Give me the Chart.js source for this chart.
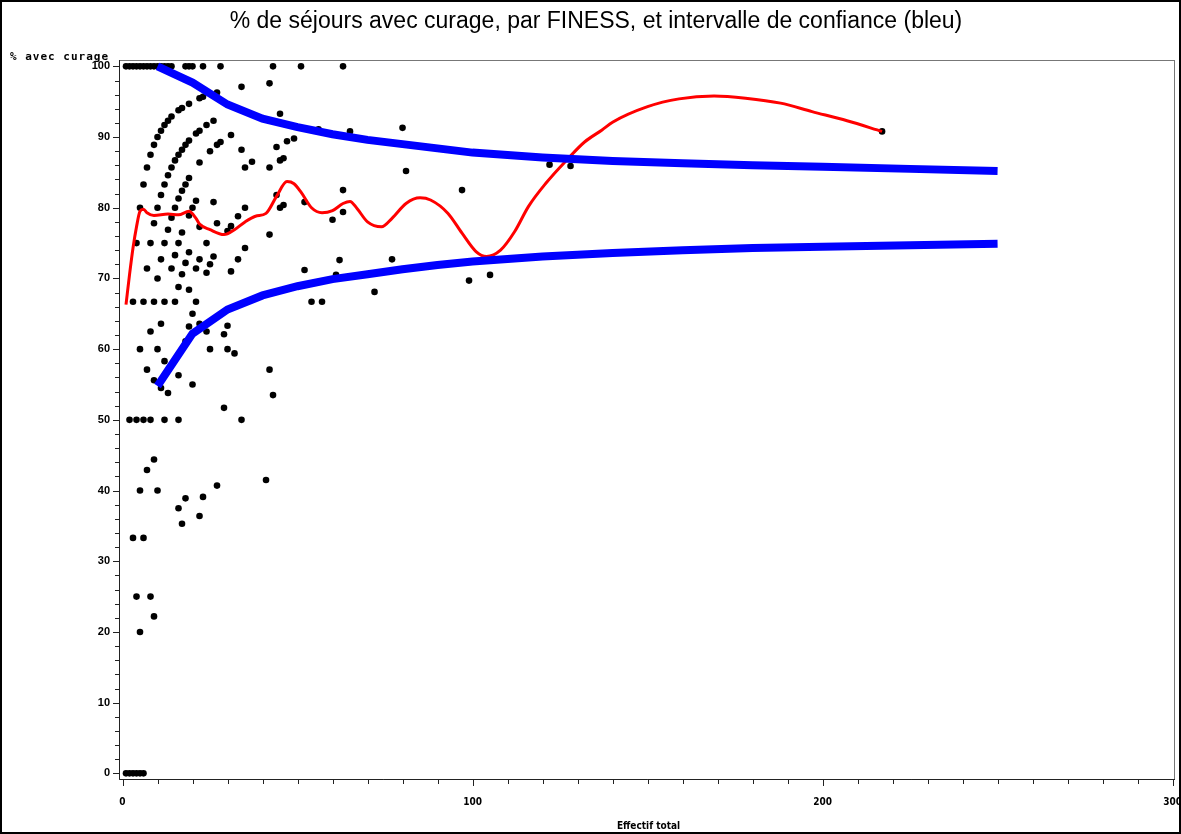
<!DOCTYPE html>
<html lang="fr">
<head>
<meta charset="utf-8">
<title>% de séjours avec curage, par FINESS</title>
<script src="https://cdn.jsdelivr.net/npm/chart.js@4.4.1/dist/chart.umd.min.js"></script>
<style>
  html, body { margin: 0; padding: 0; background: #fff; }
  #cadre { width: 1181px; height: 834px; }
</style>
</head>
<body>
<div id="cadre"><canvas id="graphe" width="1181" height="834"></canvas></div>
<script>
// --- DONNÉES ---
// Un point par FINESS : effectif total de séjours et % de séjours avec curage
const effectif = [
  // 100 %
  1, 2, 3, 4, 5, 6, 7, 8, 9, 10, 11, 12, 13, 14, 18, 19, 20, 23, 28, 43, 51, 63,
  // 0 %
  1, 2, 3, 4, 5, 6,
  // 50 %, 66,7 %, 75 %, 80 %
  2, 4, 6, 8, 12, 16, 34,
  3, 6, 9, 12, 15, 21, 54, 57,
  4, 8, 12, 16, 24,
  5, 10, 15, 20, 35, 45,
  // un seul séjour sans curage
  6, 7, 8, 9, 10, 11, 12, 13, 14, 16, 17, 19, 22, 23, 27, 34, 42,
  // deux séjours sans curage
  9, 11, 12, 13, 14, 15, 16, 17, 18, 19, 21, 22, 24, 26,
  // trois séjours sans curage
  13, 14, 16, 17, 18, 19, 22, 25, 27, 28, 31,
  // autres, au-dessus de 75 %
  45, 56, 65, 80, 47, 49, 46, 45, 81, 63, 97, 46, 52, 63, 60, 122, 128, 217,
  44, 42, 37, 35, 34, 44, 42, 33, 31, 30, 27, 26, 22, 21, 19, 17,
  // entre 50 et 75 %
  35, 7, 11, 15, 19, 22, 26, 25, 18, 14, 21, 10, 17, 24, 31, 33, 16, 19, 20,
  11, 19, 22, 24, 8, 30, 29, 5, 10, 25, 30, 32, 18, 12, 7, 9, 11, 13, 16, 20,
  29, 42, 43, 52, 62, 77, 61, 99, 105, 72,
  // sous 50 %
  9, 7, 5, 10, 27, 41, 16, 18, 23, 22, 17, 3, 6, 4, 8, 9, 5
];
const pctCurage = [
  100, 100, 100, 100, 100, 100, 100, 100, 100, 100, 100, 100, 100, 100, 100, 100, 100, 100, 100, 100, 100, 100,
  0, 0, 0, 0, 0, 0,
  50, 50, 50, 50, 50, 50, 50,
  66.7, 66.7, 66.7, 66.7, 66.7, 66.7, 66.7, 66.7,
  75, 75, 75, 75, 75,
  80, 80, 80, 80, 80, 80,
  83.3, 85.7, 87.5, 88.9, 90, 90.9, 91.7, 92.3, 92.9, 93.8, 94.1, 94.7, 95.5, 95.7, 96.3, 97.1, 97.6,
  77.8, 81.8, 83.3, 84.6, 85.7, 86.7, 87.5, 88.2, 88.9, 89.5, 90.5, 90.9, 91.7, 92.3,
  76.9, 78.6, 81.3, 82.4, 83.3, 84.2, 86.4, 88, 88.9, 89.3, 90.3,
  93.3, 91.1, 90.8, 91.3, 89.4, 89.8, 87, 86.7, 85.2, 82.5, 82.5, 80.4, 80.8, 79.4, 78.3, 86.1, 85.9, 90.8,
  88.6, 85.7, 86.5, 85.7, 88.2, 81.8, 76.2, 78.8, 77.4, 76.7, 77.8, 80.8, 77.3, 81, 78.9, 76.5,
  74.3, 71.4, 72.7, 73.3, 73.7, 72.7, 73.1, 72, 72.2, 71.4, 71.4, 70, 70.6, 70.8, 71, 72.7, 68.8, 68.4, 65,
  63.6, 63.2, 63.6, 62.5, 62.5, 63.3, 62.1, 60, 60, 60, 60, 59.4, 61.1, 58.3, 57.1, 55.6, 54.5, 53.8, 56.3, 55,
  51.7, 57.1, 53.5, 71.2, 72.6, 72.7, 70.5, 69.7, 70.5, 68.1,
  44.4, 42.9, 40, 40, 40.7, 41.5, 37.5, 38.9, 39.1, 36.4, 35.3, 33.3, 33.3, 25, 25, 22.2, 20
];

// Courbe lissée (rouge)
const lissageN   = [1, 2, 3, 4, 5, 6, 7, 9, 13, 16, 19, 21, 22, 25, 29, 32, 35, 38, 41, 44, 47, 49, 51, 54, 57, 60,
                    63, 65, 67, 70, 74, 77, 81, 85, 88, 93, 97, 101, 104, 108, 112, 116, 121, 127, 132, 137, 140,
                    150, 159, 169, 178, 188, 197, 207, 217];
const lissagePct = [66.3, 70.5, 74.3, 77.3, 79.5, 79.8, 79.3, 78.9, 79.1, 79.0, 79.5, 78.5, 77.7, 76.9, 76.2, 76.9,
                    78.0, 78.8, 79.2, 81.6, 83.7, 83.4, 82.2, 80.0, 79.3, 79.6, 80.6, 80.9, 79.9, 78.0, 77.3, 78.5,
                    80.6, 81.4, 81.1, 79.2, 76.4, 73.8, 73.1, 74.0, 76.6, 80.2, 83.5, 86.8, 89.3, 91.0, 92.1,
                    94.3, 95.4, 95.8, 95.5, 94.8, 93.6, 92.3, 90.8];

// Intervalle de confiance (bleu)
const icN    = [10, 20, 30, 40, 50, 60, 70, 80, 90, 100, 120, 140, 160, 180, 200, 225, 250];
const icHaut = [100, 97.7, 94.6, 92.6, 91.4, 90.4, 89.6, 89.0, 88.4, 87.8, 87.1, 86.6, 86.3, 86.0, 85.8, 85.5, 85.2];
const icBas  = [54.8, 62.2, 65.6, 67.6, 68.9, 69.9, 70.6, 71.3, 71.9, 72.4, 73.1, 73.6, 74.0, 74.3, 74.5, 74.7, 74.9];

// Graduations
const xEtiquettes = [0, 100, 200, 300];
const yEtiquettes = [0, 10, 20, 30, 40, 50, 60, 70, 80, 90, 100];
const xPasMineur = 10;
const yPasMineur = 2;

const titre = '% de séjours avec curage, par FINESS, et intervalle de confiance (bleu)';
const titreY = '% avec curage';
const titreX = 'Effectif total';

// --- OUTILS ---
const versPoints = (xs, ys) => xs.map((x, i) => ({ x: x, y: ys[i] }));

function graduations(debut, fin, pas) {
  const out = [];
  for (let v = debut; v <= fin + 1e-9; v += pas) out.push({ value: Math.round(v * 100) / 100 });
  return out;
}

// Cadre, petites graduations et textes dessinés à la main (style SAS/GRAPH)
const decor = {
  id: 'decor',
  afterDraw(chart) {
    const { ctx, chartArea: a, scales } = chart;
    const sx = scales.x, sy = scales.y;
    ctx.save();

    // bordure de la page
    ctx.strokeStyle = '#000';
    ctx.lineWidth = 2;
    ctx.strokeRect(1, 1, chart.width - 2, chart.height - 2);

    // cadre du graphique
    ctx.lineWidth = 1;
    ctx.strokeStyle = '#777';
    ctx.strokeRect(a.left + 0.5, a.top + 0.5, a.right - a.left, a.bottom - a.top);
    ctx.strokeStyle = '#222';
    ctx.beginPath();
    ctx.moveTo(a.left + 0.5, a.top);
    ctx.lineTo(a.left + 0.5, a.bottom + 0.5);
    ctx.lineTo(a.right + 1, a.bottom + 0.5);
    ctx.stroke();

    // graduations
    ctx.beginPath();
    sx.ticks.forEach(t => {
      const px = Math.round(sx.getPixelForValue(t.value)) + 0.5;
      const lg = xEtiquettes.includes(t.value) ? 6 : 4;
      ctx.moveTo(px, a.bottom + 1);
      ctx.lineTo(px, a.bottom + 1 + lg);
    });
    sy.ticks.forEach(t => {
      const py = Math.round(sy.getPixelForValue(t.value)) + 0.5;
      const lg = yEtiquettes.includes(t.value) ? 6 : 4;
      ctx.moveTo(a.left, py);
      ctx.lineTo(a.left - lg, py);
    });
    ctx.stroke();

    // textes
    ctx.fillStyle = '#000';
    ctx.textBaseline = 'middle';
    ctx.textAlign = 'center';
    ctx.font = '23px "Liberation Sans", Arial, sans-serif';
    ctx.fillText(titre, 596, 22);

    ctx.font = 'bold 10px "DejaVu Sans Condensed", sans-serif';
    ctx.fillText(titreX, (a.left + a.right) / 2 + 2, 826);

    ctx.textAlign = 'left';
    ctx.font = 'bold 11px "DejaVu Sans Mono", monospace';
    ctx.letterSpacing = '1px';
    ctx.fillText(titreY, 10, 57);
    ctx.restore();
  }
};

// --- GRAPHIQUE ---
const ctx = document.getElementById('graphe').getContext('2d');

new Chart(ctx, {
  type: 'scatter',
  data: {
    datasets: [
      {
        // intervalle de confiance, borne haute
        data: versPoints(icN, icHaut),
        showLine: true,
        borderColor: '#0000ff',
        borderWidth: 8,
        tension: 0,
        pointRadius: 0,
        order: 1
      },
      {
        // intervalle de confiance, borne basse
        data: versPoints(icN, icBas),
        showLine: true,
        borderColor: '#0000ff',
        borderWidth: 8,
        tension: 0,
        pointRadius: 0,
        order: 1
      },
      {
        data: versPoints(lissageN, lissagePct),
        showLine: true,
        borderColor: '#ff0000',
        borderWidth: 3,
        cubicInterpolationMode: 'monotone',
        pointRadius: 0,
        order: 2
      },
      {
        data: versPoints(effectif, pctCurage),
        pointRadius: 3.3,
        pointBackgroundColor: '#000',
        pointBorderWidth: 0,
        order: 3
      }
    ]
  },
  options: {
    responsive: false,
    animation: false,
    devicePixelRatio: 1,
    events: [],
    layout: { padding: { top: 60, left: 0, right: 7, bottom: 15 } },
    plugins: {
      legend: { display: false },
      tooltip: { enabled: false },
      title: { display: false }
    },
    scales: {
      x: {
        type: 'linear',
        min: -1,
        max: 300.4,
        grid: { display: false, drawTicks: false },
        border: { display: false },
        afterBuildTicks: s => { s.ticks = graduations(0, 300, xPasMineur); },
        afterFit: s => { s.height = 40; s.paddingLeft = 0; s.paddingRight = 0; },
        ticks: {
          autoSkip: false,
          maxRotation: 0,
          padding: 17,
          color: '#000',
          font: { family: '"DejaVu Sans Condensed", sans-serif', size: 10, weight: 'bold' },
          callback: v => xEtiquettes.includes(v) ? String(v) : ''
        }
      },
      y: {
        type: 'linear',
        min: -0.8,
        max: 100.9,
        grid: { display: false, drawTicks: false },
        border: { display: false },
        afterBuildTicks: s => { s.ticks = graduations(0, 100, yPasMineur); },
        afterFit: s => { s.width = 119; s.paddingTop = 0; s.paddingBottom = 0; },
        ticks: {
          autoSkip: false,
          padding: 9,
          color: '#000',
          font: { family: '"Liberation Sans", Arial, sans-serif', size: 11, weight: 'bold' },
          callback: v => yEtiquettes.includes(v) ? String(v) : ''
        }
      }
    }
  },
  plugins: [decor]
});
</script>
</body>
</html>
